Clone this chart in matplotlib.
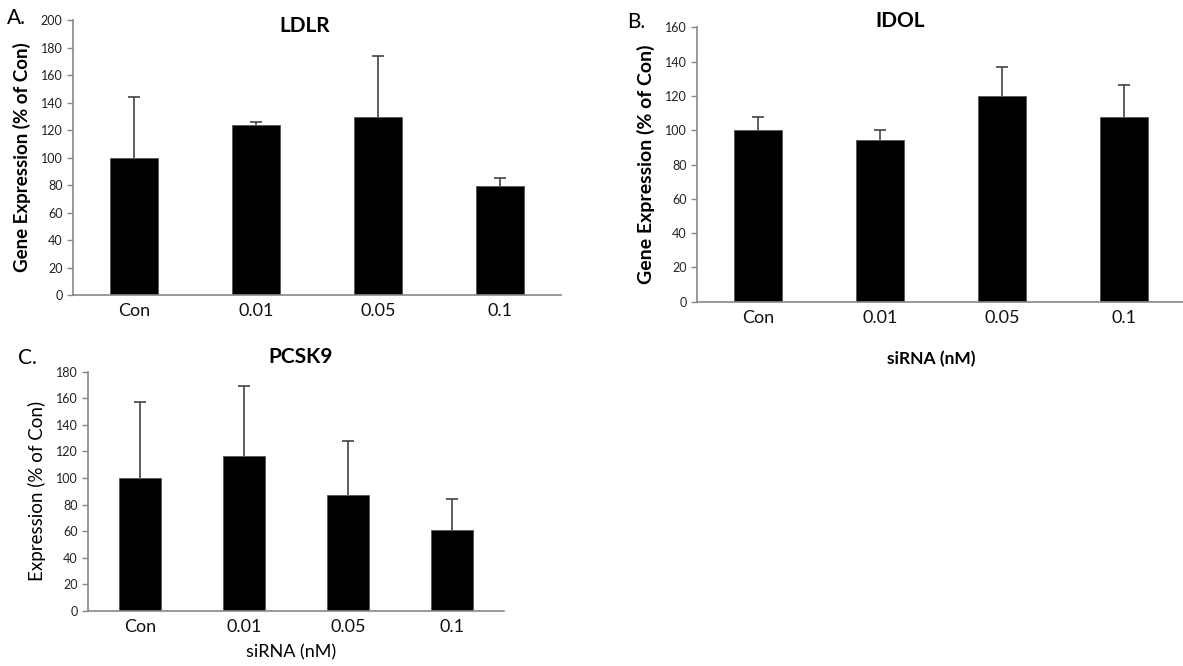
import matplotlib.pyplot as plt

plt.rcParams['font.family'] = ['Lato', 'DejaVu Sans']

categories = ['Con', '0.01', '0.05', '0.1']

ldlr_mean = [100, 124, 129.5, 79]
ldlr_err = [44, 2, 44.5, 6]

idol_mean = [100, 94.5, 119.8, 107.7]
idol_err = [7.5, 5.5, 17.2, 18.8]

pcsk9_mean = [100, 116.6, 87.5, 61]
pcsk9_err = [57, 52.4, 40.5, 23]


def panel(fig, rect, means, errs, ymax, ystep, title, title_pos, ylabel, ylabel_bold, ylabel_size):
    ax = fig.add_axes(rect)
    x = range(len(categories))
    ax.bar(x, means, width=0.4, color='black', edgecolor='#555555', linewidth=0.6, zorder=2)
    eb = ax.errorbar(x, means, yerr=[[0] * len(errs), errs], fmt='none', ecolor='#444444',
                     elinewidth=1.2, capsize=4, capthick=1.2, zorder=1)
    # only the upper cap is drawn in the original
    eb[1][0].set_visible(False)
    ax.set_xlim(-0.5, len(categories) - 0.5)
    ax.set_ylim(0, ymax)
    ax.set_yticks(range(0, ymax + 1, ystep))
    ax.set_xticks(list(x))
    ax.set_xticklabels(categories, fontsize=13, color='#111111')
    ax.tick_params(axis='x', length=0, pad=6)
    ax.tick_params(axis='y', labelsize=9, colors='#888888', labelcolor='#222222', length=4, width=1)
    for s in ['top', 'right']:
        ax.spines[s].set_visible(False)
    for s in ['left', 'bottom']:
        ax.spines[s].set_color('#888888')
        ax.spines[s].set_linewidth(1.2)
    ax.text(title_pos[0], title_pos[1], title, transform=ax.transAxes, fontsize=15,
            fontweight='bold', ha='center', va='center')
    ax.set_ylabel(ylabel, fontsize=ylabel_size, fontweight='bold' if ylabel_bold else 'normal', labelpad=7)
    return ax


fig = plt.figure(figsize=[11.83, 6.66], dpi=100)

axA = panel(fig, [0.0617, 0.557, 0.4125, 0.4129], ldlr_mean, ldlr_err, 200, 20,
            'LDLR', (0.475, 0.978), 'Gene Expression (% of Con)', True, 13.5)
axB = panel(fig, [0.5892, 0.547, 0.4125, 0.412], idol_mean, idol_err, 160, 20,
            'IDOL', (0.416, 1.023), 'Gene Expression (% of Con)', True, 14)
axB.text(0.48, -0.209, 'siRNA (nM)', transform=axB.transAxes, fontsize=12.5,
         fontweight='bold', ha='center', va='center')
axC = panel(fig, [0.0744, 0.0826, 0.3517, 0.3593], pcsk9_mean, pcsk9_err, 180, 20,
            'PCSK9', (0.51, 1.061), 'Expression (% of Con)', False, 13.5)
axC.text(0.488, -0.174, 'siRNA (nM)', transform=axC.transAxes, fontsize=13,
         ha='center', va='center')

fig.text(0.006, 0.988, 'A.', fontsize=15, va='top')
fig.text(0.530, 0.982, 'B.', fontsize=15, va='top')
fig.text(0.015, 0.478, 'C.', fontsize=15, va='top')

plt.savefig('out.png', dpi=100)
